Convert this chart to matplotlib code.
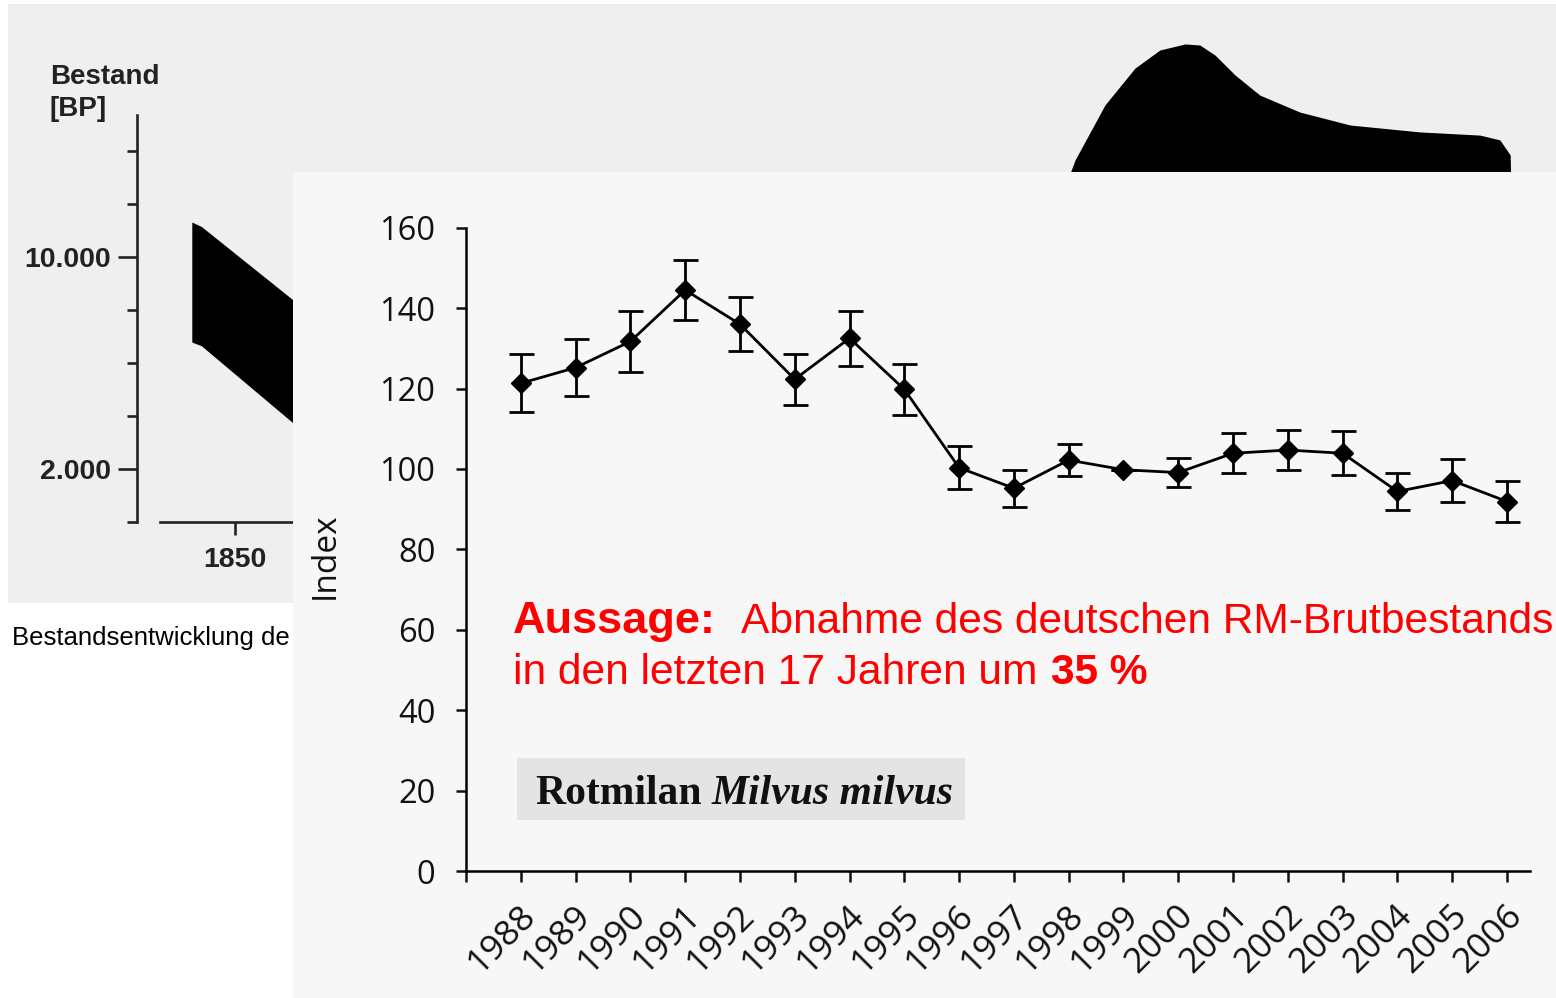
import matplotlib
matplotlib.use('Agg')
import matplotlib.pyplot as plt
from matplotlib import font_manager
from matplotlib.patches import Rectangle
from matplotlib.transforms import ScaledTranslation

# Rotmilan Milvus milvus, Bestandsindex 1988-2006 (Mittelwert und Fehlerbalken)
years = list(range(1988, 2007))
index = [121.3, 125.2, 131.7, 144.5, 136.0, 122.3, 132.5, 119.8, 100.3, 95.2,
         102.2, 99.8, 99.1, 103.9, 104.7, 103.9, 94.4, 97.1, 91.9]
index_err = [7.2, 7.1, 7.7, 7.5, 6.7, 6.3, 6.8, 6.3, 5.4, 4.6,
             3.9, 0.0, 3.7, 5.0, 5.0, 5.5, 4.6, 5.4, 5.2]
y_ticks = [0, 20, 40, 60, 80, 100, 120, 140, 160]

# hintergrund: eingescannte Grafik "Bestand [BP]" (teilweise verdeckt)
bp_major = [2000, 10000]
bp_major_labels = ['2.000', '10.000']
bp_minor = [0, 4000, 6000, 8000, 12000, 14000]
bp_xticks = [1850]
band_years = [1844.6, 1845.8, 1870]
band_upper = [11320, 11150, 5300]
band_lower = [6790, 6650, 500]
hump_years = [1951.25, 1955, 1958.75, 1962.5, 1965.6, 1968.75, 1970.6, 1972.5, 1975,
              1978.1, 1983.1, 1989.4, 1998.1, 2005.6, 2008.1, 2009.4, 2009.6]
hump_upper = [10640, 13660, 15740, 17130, 17810, 18040, 18000, 17620, 16870,
              16110, 15470, 14980, 14720, 14600, 14420, 13850, 10640]
hump_lower = [9000] * len(hump_years)

plt.rcParams['font.family'] = ['Open Sans', 'DejaVu Sans']

W, H = 1556, 998
fig = plt.figure(figsize=(W / 100, H / 100), dpi=100)
fig.patch.set_facecolor('white')


def fx(x):
    return x / W


def fy(y):
    return 1 - y / H


# Ebene 0: Scan-Hintergrund
scan = fig.add_axes([0, 0, 1, 1], zorder=0)
scan.set_xlim(0, W)
scan.set_ylim(H, 0)
scan.axis('off')
scan.add_patch(Rectangle((8, 4), W - 8, 599, color='#efefef', lw=0))
scan.text(12, 645, 'Bestandsentwicklung de', fontsize=18.5,
          family='Liberation Sans', va='baseline')
scan.text(50, 84, 'Bestand', fontsize=20, family='Liberation Sans',
          weight='bold', color='#222222', va='baseline')
scan.text(50, 116, '[BP]', fontsize=20, family='Liberation Sans',
          weight='bold', color='#222222', va='baseline')

# Ebene 1: alte Grafik
bg = fig.add_axes([fx(137), fy(522), fx(1556) - fx(137), fy(4) - fy(522)], zorder=1)
bg.patch.set_visible(False)
bg.fill_between(band_years, band_lower, band_upper, color='black', lw=0)
bg.fill_between(hump_years, hump_lower, hump_upper, color='black', lw=0)
bg.set_xlim(1837.75, 2015.125)
bg.set_ylim(0, 19547)
bg.spines['top'].set_visible(False)
bg.spines['right'].set_visible(False)
bg.spines['left'].set_bounds(0, 15350)
bg.spines['bottom'].set_bounds(1840.6, 2015)
for s in ['left', 'bottom']:
    bg.spines[s].set_linewidth(1.9)
    bg.spines[s].set_color('#222222')
bg.set_yticks(bp_major, labels=bp_major_labels)
bg.set_yticks(bp_minor, minor=True)
bg.set_xticks(bp_xticks, labels=[str(v) for v in bp_xticks])
bg.tick_params(axis='y', which='major', length=14, width=1.9, pad=5, color='#222222')
bg.tick_params(axis='y', which='minor', length=7, width=1.9, color='#222222')
bg.tick_params(axis='x', length=9, width=1.9, pad=9, color='#222222')
for lab in bg.get_xticklabels() + bg.get_yticklabels():
    lab.set_family('Liberation Sans')
    lab.set_fontsize(20.5)
    lab.set_weight('bold')
    lab.set_color('#222222')

# Ebene 2: aufgelegtes Diagramm
over = fig.add_axes([0, 0, 1, 1], zorder=2)
over.set_xlim(0, W)
over.set_ylim(H, 0)
over.axis('off')
over.patch.set_visible(False)
over.add_patch(Rectangle((293, 172), W - 293, H - 172, color='#f7f7f7', lw=0))
over.add_patch(Rectangle((517, 758), 448, 62, color='#e4e4e4', lw=0))

ax = fig.add_axes([fx(466), fy(871), (1530 - 466) / W, (871 - 227.7) / H], zorder=3)
ax.patch.set_visible(False)
ax.errorbar(years, index, yerr=index_err, fmt='-D', color='black', ms=10.5, lw=2.0,
            elinewidth=2.0, capsize=9, capthick=2.0, clip_on=False)
ax.set_xlim(1987, 2006.42)
ax.set_ylim(0, 160)
ax.set_yticks(y_ticks)
ax.set_xticks([1987] + years, labels=[''] + [str(y) for y in years])
ax.spines['top'].set_visible(False)
ax.spines['right'].set_visible(False)
ax.spines['left'].set_linewidth(1.8)
ax.spines['bottom'].set_linewidth(1.8)
ax.tick_params(axis='y', length=7, width=1.8, pad=15, labelsize=23.5, colors='#111111')
ax.tick_params(axis='x', length=8, width=1.8, pad=12, labelsize=25.5, colors='#111111')
for lab in ax.get_xticklabels():
    lab.set_rotation(45)
    lab.set_ha('right')
    lab.set_va('top')
    lab.set_rotation_mode('anchor')
    lab.set_transform(lab.get_transform() + ScaledTranslation(-0.02, 0, fig.dpi_scale_trans))
ax.set_ylabel('Index', fontsize=24, color='#111111')
ax.yaxis.set_label_coords(-0.117, 0.49)

# Texte
try:
    font_manager.findfont(font_manager.FontProperties(family='Liberation Sans Narrow'),
                          fallback_to_default=False)
    red_family, red_size, head_size = 'Liberation Sans Narrow', 36, 37
except ValueError:
    red_family, red_size, head_size = 'Liberation Sans', 30.6, 32.5

renderer = fig.canvas.get_renderer()


def chain(x, y, parts, gap, **common):
    for s, extra in parts:
        t = fig.text(fx(x), fy(y), s, va='baseline', zorder=10, **common, **extra)
        x = t.get_window_extent(renderer=renderer).x1 + gap


red = dict(color='#ff0000', family=red_family, va='baseline', zorder=10)
fig.text(fx(513), fy(633), 'Aussage:', weight='bold', fontsize=head_size, **red)
fig.text(fx(741), fy(633), 'Abnahme des deutschen RM-Brutbestands', fontsize=red_size, **red)
fig.text(fx(513), fy(684), 'in den letzten 17 Jahren um', fontsize=red_size, **red)
fig.text(fx(1051), fy(684), '35 %', weight='bold', fontsize=red_size, **red)
chain(535, 804, [('Rotmilan', {}), ('Milvus milvus', dict(style='italic'))], 10,
      color='#111111', family='Liberation Serif', fontsize=30, weight='bold')

fig.savefig('out.png', dpi=100)
